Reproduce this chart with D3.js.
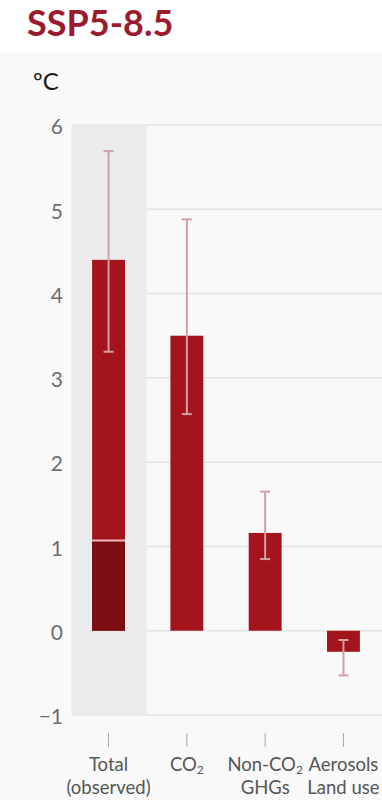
<!DOCTYPE html>
<html>
<head>
<meta charset="utf-8">
<script src="https://cdn.jsdelivr.net/npm/d3@7"></script>
<style>
  html, body { margin: 0; padding: 0; background: #ffffff; }
  svg { display: block; font-family: Lato, "Open Sans", sans-serif; }
</style>
</head>
<body>
<svg id="chart" width="382" height="800"></svg>
<script>
// ---- data ----
const title = "SSP5-8.5";
const unitLabel = "ºC";
const categories = ["Total", "CO2", "NonCO2", "Aerosols"];
const labelLine1 = [["Total"], ["CO", "2"], ["Non-CO", "2"], ["Aerosols"]];
const labelLine2 = ["(observed)", "", "GHGs", "Land use"];
const values = [4.40, 3.50, 1.16, -0.25];
const errLow = [3.31, 2.57, 0.85, -0.53];
const errHigh = [5.69, 4.88, 1.65, -0.11];
const observedValue = 1.07;
const yTicks = [-1, 0, 1, 2, 3, 4, 5, 6];

// ---- layout ----
const svg = d3.select("#chart");
const W = 382, H = 800;
const plotTop = 125, plotBottom = 715, plotLeft = 72;

const y = d3.scaleLinear().domain([-1, 6]).range([plotBottom, plotTop]);
const x = d3.scaleBand().domain(categories).range([69.4, 382.6])
  .paddingInner(0.58).paddingOuter(0.29);
const cx = c => x(c) + x.bandwidth() / 2;

// background
svg.append("rect").attr("x", 0).attr("y", 0).attr("width", W).attr("height", H).attr("fill", "#ffffff");
svg.append("rect").attr("x", 0).attr("y", 52).attr("width", W).attr("height", H - 52).attr("fill", "#f9f9f9");

// gridlines
svg.append("g").selectAll("line").data(yTicks).join("line")
  .attr("x1", plotLeft).attr("x2", W)
  .attr("y1", d => y(d)).attr("y2", d => y(d))
  .attr("stroke", "#e4e4e4").attr("stroke-width", 1.5);

// shaded band behind Total
svg.append("rect")
  .attr("x", cx("Total") - x.step() / 2 + 2)
  .attr("width", x.step() - 3)
  .attr("y", y(6)).attr("height", y(-1) - y(6))
  .attr("fill", "#ebebee");

// y tick labels
svg.append("g").selectAll("text").data(yTicks).join("text")
  .attr("x", 63).attr("y", d => y(d) + 2)
  .attr("dy", "0.35em")
  .attr("text-anchor", "end")
  .attr("font-size", 21)
  .attr("fill", "#6e6e6e")
  .text(d => d < 0 ? "\u2212" + Math.abs(d) : d);

// bars
const data = categories.map((c, i) => ({ c, v: values[i], lo: errLow[i], hi: errHigh[i] }));
svg.append("g").selectAll("rect").data(data).join("rect")
  .attr("x", d => x(d.c)).attr("width", x.bandwidth())
  .attr("y", d => y(Math.max(0, d.v)))
  .attr("height", d => Math.abs(y(d.v) - y(0)))
  .attr("fill", "#a3141d");

// observed portion
svg.append("rect")
  .attr("x", x("Total")).attr("width", x.bandwidth())
  .attr("y", y(observedValue)).attr("height", y(0) - y(observedValue))
  .attr("fill", "#7a0e12");
svg.append("line")
  .attr("x1", x("Total")).attr("x2", x("Total") + x.bandwidth())
  .attr("y1", y(observedValue)).attr("y2", y(observedValue))
  .attr("stroke", "#f0b8b8").attr("stroke-width", 2);

// error bars
const eg = svg.append("g").attr("stroke", "#d3a0a6").attr("stroke-width", 2);
eg.selectAll("line.v").data(data).join("line").attr("class", "v")
  .attr("x1", d => cx(d.c)).attr("x2", d => cx(d.c))
  .attr("y1", d => y(d.hi)).attr("y2", d => y(d.lo));
eg.selectAll("line.t").data(data).join("line").attr("class", "t")
  .attr("x1", d => cx(d.c) - 5).attr("x2", d => cx(d.c) + 5)
  .attr("y1", d => y(d.hi)).attr("y2", d => y(d.hi));
eg.selectAll("line.b").data(data).join("line").attr("class", "b")
  .attr("x1", d => cx(d.c) - 5).attr("x2", d => cx(d.c) + 5)
  .attr("y1", d => y(d.lo)).attr("y2", d => y(d.lo));

// x axis ticks
svg.append("g").selectAll("line").data(categories).join("line")
  .attr("x1", d => cx(d)).attr("x2", d => cx(d))
  .attr("y1", 733).attr("y2", 747)
  .attr("stroke", "#aaaaaa").attr("stroke-width", 1);

// x labels
const lab = svg.append("g").attr("font-size", 18.5).attr("fill", "#555555").attr("text-anchor", "middle");
categories.forEach((c, i) => {
  const t1 = lab.append("text").attr("x", cx(c)).attr("y", 771);
  const parts = labelLine1[i];
  t1.append("tspan").text(parts[0]);
  if (parts.length > 1) {
    t1.append("tspan").attr("font-size", 12).attr("dy", 3).text(parts[1]);
  }
  if (labelLine2[i]) {
    lab.append("text").attr("x", cx(c)).attr("y", 794).text(labelLine2[i]);
  }
});

// unit label
svg.append("text").attr("x", 33).attr("y", 90)
  .attr("font-size", 24).attr("fill", "#1a1a1a").text(unitLabel);

// title
svg.append("text").attr("x", 27).attr("y", 36)
  .attr("font-size", 36).attr("font-weight", "bold").attr("fill", "#9c1a2e").text(title);
</script>
</body>
</html>
